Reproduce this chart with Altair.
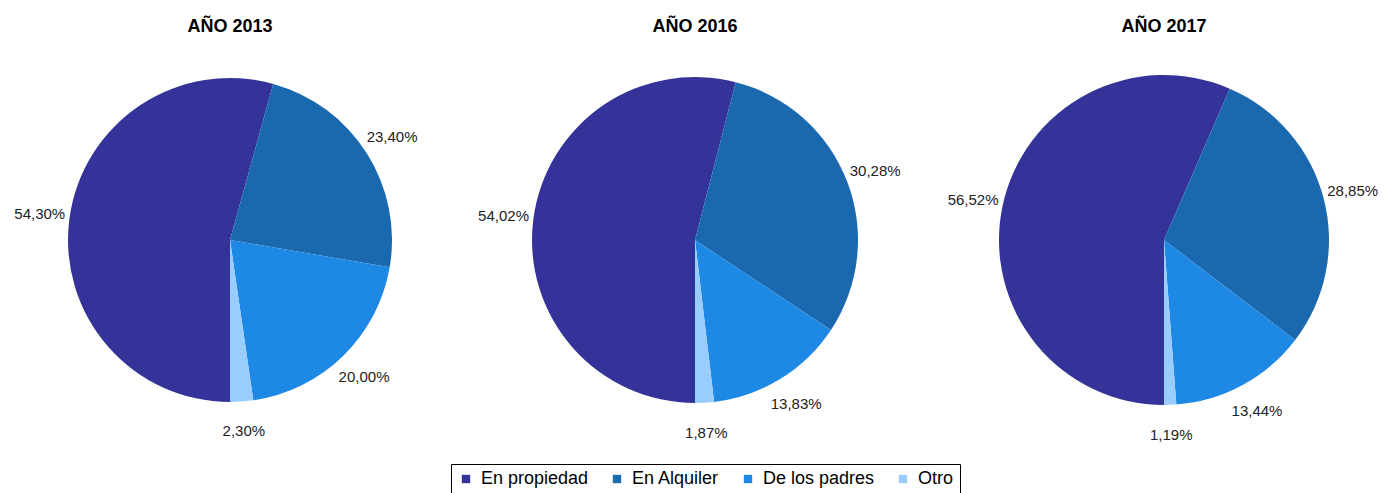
import math
import pandas as pd
import altair as alt

years = ["AÑO 2013", "AÑO 2016", "AÑO 2017"]
categories = ["En propiedad", "En Alquiler", "De los padres", "Otro"]
values_2013 = [54.30, 23.40, 20.00, 2.30]
values_2016 = [54.02, 30.28, 13.83, 1.87]
values_2017 = [56.52, 28.85, 13.44, 1.19]
colors = ["#333399", "#1a69ae", "#1e88e5", "#99ccff"]

series = [values_2013, values_2016, values_2017]
panel_widths = [444, 486, 452]
radii = [162, 163, 165]
H = 388

legend = alt.Legend(
    orient="none", legendX=443, legendY=418, direction="horizontal", title=None,
    symbolType="square", symbolSize=70, symbolStrokeWidth=0,
    labelFontSize=18, labelFont="Liberation Sans", labelColor="black",
    strokeColor="black", fillColor="white", padding=6, columnPadding=19,
    labelOffset=6, cornerRadius=0,
)


def fmt(v):
    return f"{v:.2f}".replace(".", ",") + "%"


def panel(title, vals, width, radius):
    df = pd.DataFrame({
        "categoria": categories,
        "valor": vals,
        "orden": list(range(len(categories))),
        "etiqueta": [fmt(v) for v in vals],
    })
    base = alt.Chart(df).encode(
        theta=alt.Theta("valor:Q", stack=True,
                        scale=alt.Scale(range=[math.pi, 3 * math.pi])),
        order=alt.Order("orden:Q", sort="ascending"),
    )
    arc = base.mark_arc(outerRadius=radius, stroke=None).encode(
        color=alt.Color("categoria:N",
                        scale=alt.Scale(domain=categories, range=colors),
                        sort=categories, legend=legend)
    )
    text = base.mark_text(radius=radius + 30, fontSize=15,
                          font="Liberation Sans", color="#222222").encode(
        text="etiqueta:N"
    )
    return alt.layer(arc, text).properties(
        width=width, height=H,
        title=alt.TitleParams(title, fontSize=18, font="Liberation Sans",
                              fontWeight="bold", color="black", offset=10,
                              anchor="middle"),
    )


panels = [panel(t, v, w, r) for t, v, w, r in zip(years, series, panel_widths, radii)]
chart = alt.hconcat(*panels, spacing=0).properties(
    padding={"top": 10, "left": 0, "right": 0, "bottom": 0}
).configure_view(stroke=None)

chart.save("out.html", embed_options={"renderer": "svg", "actions": False})
